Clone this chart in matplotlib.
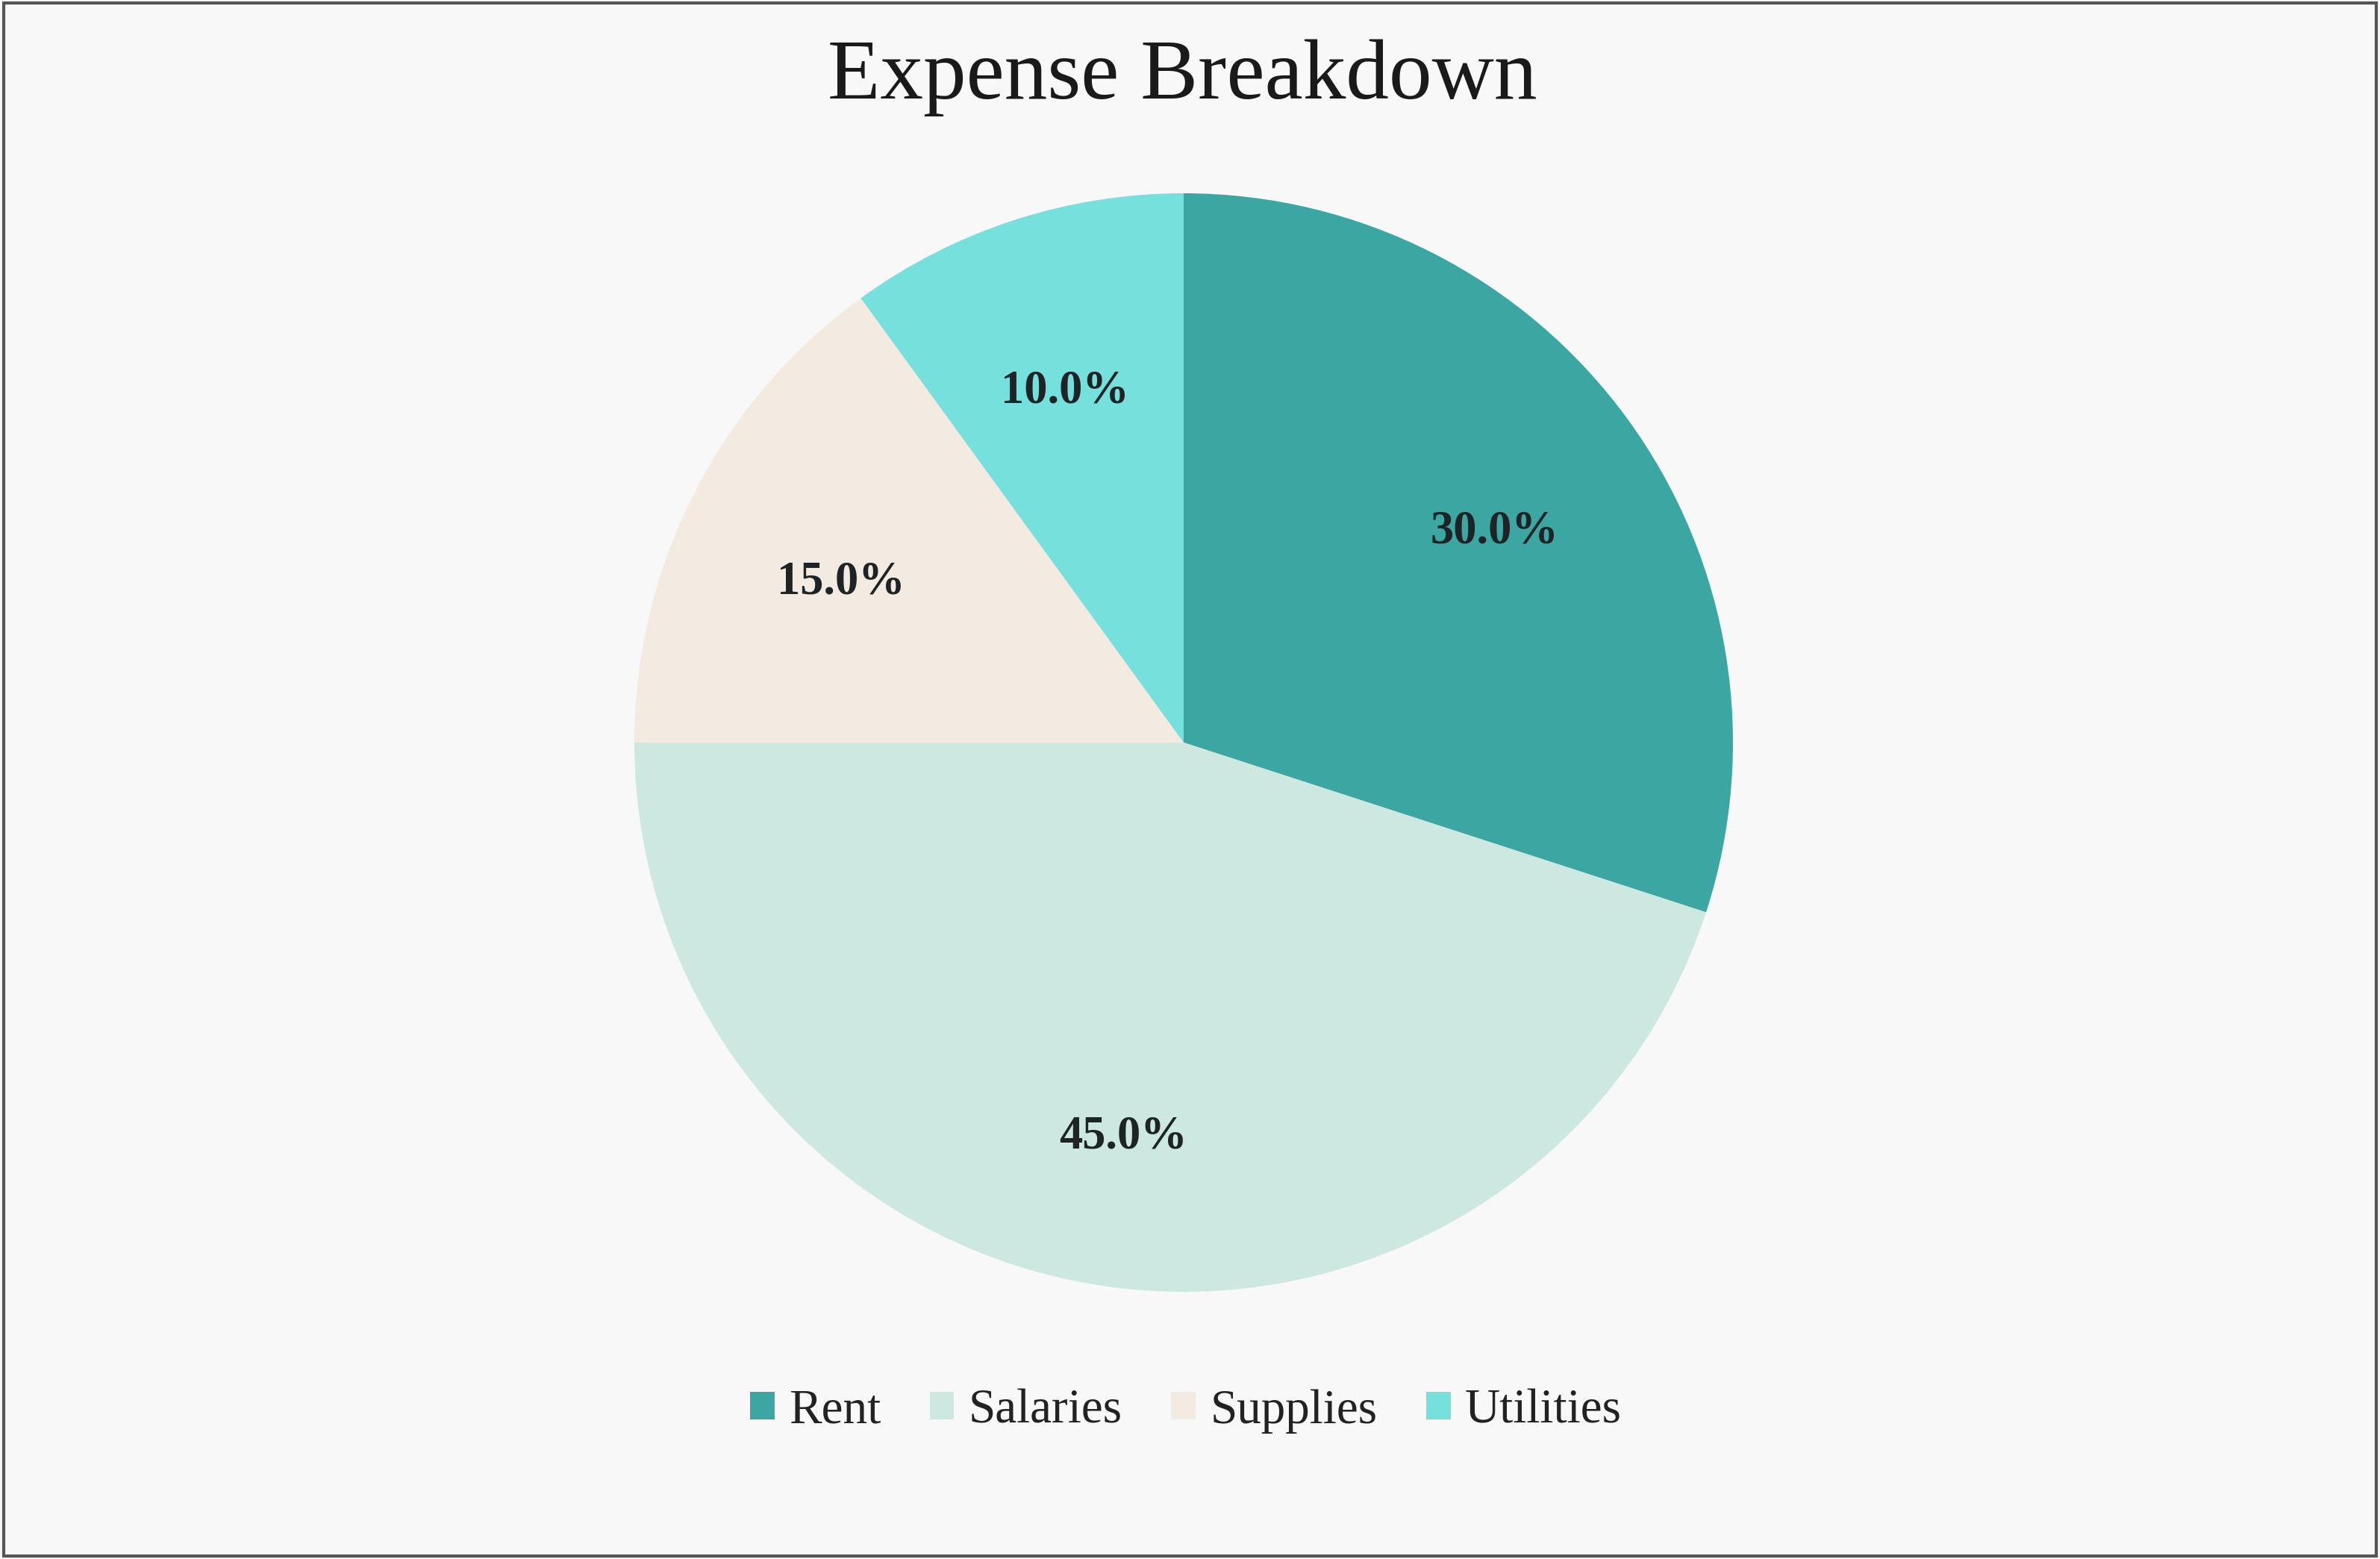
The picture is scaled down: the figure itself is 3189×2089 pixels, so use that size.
import matplotlib.pyplot as plt
from matplotlib.patches import Patch, Rectangle

categories = ["Rent", "Salaries", "Supplies", "Utilities"]
values = [30, 45, 15, 10]
colors = ["#3ca6a3", "#cce8e0", "#f3ebe2", "#76e0dc"]

plt.rcParams['font.family'] = ['Liberation Serif', 'DejaVu Serif']

W, H = 3189, 2089
fig = plt.figure(figsize=(W / 100, H / 100), dpi=100)
fig.patch.set_facecolor("#f8f8f8")

# pie centre and radius in pixels
cx, cy, r = 1586, 995, 736
ax = fig.add_axes([(cx - r) / W, (H - cy - r) / H, 2 * r / W, 2 * r / H])
ax.set_facecolor("none")

wedges, texts, autotexts = ax.pie(
    values, colors=colors, startangle=90, counterclock=False,
    autopct="%1.1f%%", pctdistance=0.7, radius=1,
    wedgeprops=dict(linewidth=0),
    textprops=dict(fontsize=45, fontweight="bold", color="#1e2426"),
)
# labels sit a little lower in the original
for t in autotexts:
    x, y = t.get_position()
    t.set_position((x, y - 0.027))

ax.set_xlim(-1, 1)
ax.set_ylim(-1, 1)
ax.set_aspect("equal")
ax.axis("off")

fig.text(1584 / W, 1 - 132 / H, "Expense Breakdown", ha="center", va="baseline",
         fontsize=83, color="#1a1a1a")

handles = [Patch(facecolor=c, edgecolor="none") for c in colors]
fig.legend(handles, categories, loc="center", bbox_to_anchor=(1589 / W, 1 - 1891 / H),
           ncol=4, frameon=False, fontsize=47, handlelength=0.5, handleheight=0.5,
           handletextpad=0.3, columnspacing=1.0, labelcolor="#222222")

fig.patches.append(Rectangle((0.0015, 0.002), 0.997, 0.996, transform=fig.transFigure,
                             fill=False, edgecolor="#555555", linewidth=3))

fig.savefig("out.png", dpi=100, facecolor=fig.get_facecolor())
